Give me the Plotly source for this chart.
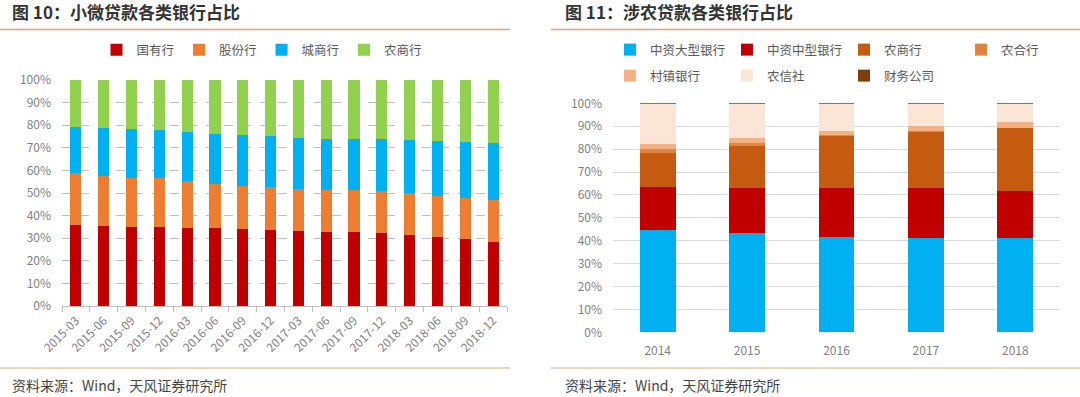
import plotly.graph_objects as go

W, H = 1080, 397
FONT = "Noto Sans CJK SC, Noto Sans, sans-serif"

# ---------------- Left chart data (图10) ----------------
quarters = ["2015-03", "2015-06", "2015-09", "2015-12", "2016-03", "2016-06", "2016-09", "2016-12",
            "2017-03", "2017-06", "2017-09", "2017-12", "2018-03", "2018-06", "2018-09", "2018-12"]
state_owned = [35.7, 35.3, 35.0, 34.8, 34.4, 34.4, 34.1, 33.5, 33.0, 32.6, 32.6, 32.3, 31.4, 30.5, 29.5, 28.5]
joint_stock = [23.0, 22.4, 21.8, 21.7, 20.8, 19.6, 19.1, 19.3, 18.6, 18.7, 18.7, 18.4, 18.6, 18.2, 18.3, 18.4]
city_comm = [20.7, 21.1, 21.7, 21.2, 21.8, 22.3, 22.6, 22.4, 22.9, 22.7, 22.7, 23.2, 23.5, 24.3, 24.8, 25.2]
rural_comm = [20.6, 21.2, 21.5, 22.3, 23.0, 23.7, 24.2, 24.8, 25.5, 26.0, 26.0, 26.1, 26.5, 27.0, 27.4, 27.9]

left_names = ["国有行", "股份行", "城商行", "农商行"]
left_colors = ["#C00000", "#ED7D31", "#00B0F0", "#92D050"]

# ---------------- Right chart data (图11) ----------------
years = ["2014", "2015", "2016", "2017", "2018"]
large_banks = [44.7, 43.2, 41.7, 41.3, 41.3]
medium_banks = [18.9, 20.0, 21.4, 21.6, 20.4]
rural_commercial = [14.6, 18.2, 22.6, 24.8, 27.6]
rural_coop = [2.0, 1.2, 0.4, 0.2, 0.1]
village_banks = [2.0, 2.1, 1.8, 2.2, 2.3]
rural_credit = [17.4, 14.9, 11.7, 9.5, 7.9]
finance_cos = [0.4, 0.4, 0.4, 0.4, 0.4]

right_names = ["中资大型银行", "中资中型银行", "农商行", "农合行", "村镇银行", "农信社", "财务公司"]
right_colors = ["#00B0F0", "#C00000", "#C55A11", "#E2843F", "#F4B183", "#FBE5D6", "#843C0C"]
right_legend = ["legend2", "legend2", "legend2", "legend2", "legend3", "legend3", "legend3"]

fig = go.Figure()

for name, vals, col in zip(left_names, [state_owned, joint_stock, city_comm, rural_comm], left_colors):
    fig.add_trace(go.Bar(x=quarters, y=vals, name=name, marker=dict(color=col, line=dict(width=0)),
                         xaxis="x", yaxis="y", legend="legend", width=0.4))

for name, vals, col, lg in zip(right_names,
                               [large_banks, medium_banks, rural_commercial, rural_coop,
                                village_banks, rural_credit, finance_cos],
                               right_colors, right_legend):
    fig.add_trace(go.Bar(x=years, y=vals, name=name, marker=dict(color=col, line=dict(width=0)),
                         xaxis="x2", yaxis="y2", legend=lg, width=0.4))


def px_x(p):
    return p / W


def px_y(p):
    return 1 - p / H


tick_font = dict(family=FONT, size=12, color="#7F7F7F")
legend_font = dict(family=FONT, size=12.5, color="#595959")

fig.update_layout(
    template="none",
    width=W, height=H,
    margin=dict(l=0, r=0, t=0, b=0, autoexpand=False),
    paper_bgcolor="white", plot_bgcolor="white",
    barmode="stack",
    font=dict(family=FONT, color="#595959"),
    xaxis=dict(domain=[px_x(62), px_x(507)], type="category", tickangle=-45, automargin=False,
               tickfont=tick_font, showgrid=False, showline=True, linecolor="#BFBFBF",
               ticks="outside", tickson="boundaries", ticklen=5, tickcolor="#BFBFBF",
               anchor="y", ticklabelstandoff=2, zeroline=False),
    yaxis=dict(domain=[px_y(306), px_y(80)], range=[0, 100], dtick=10, ticksuffix="%",
               automargin=False, ticks="",
               tickfont=tick_font, showgrid=True, gridcolor="#BFBFBF", griddash="dash",
               gridwidth=1, zeroline=False, showline=False, anchor="x", ticklabelstandoff=10),
    xaxis2=dict(domain=[px_x(613), px_x(1060)], type="category", tickfont=tick_font,
                automargin=False, zeroline=False,
                showgrid=False, showline=False, ticks="", anchor="y2", ticklabelstandoff=10),
    yaxis2=dict(domain=[px_y(332.3), px_y(103.3)], range=[0, 100], dtick=10, ticksuffix="%",
                automargin=False, ticks="",
                tickfont=tick_font, showgrid=True, gridcolor="#D9D9D9", gridwidth=1.2,
                zeroline=False, showline=False, anchor="x2", ticklabelstandoff=10),
    legend=dict(orientation="h", x=px_x(262), xanchor="center", y=px_y(50), yanchor="middle",
                font=legend_font, traceorder="normal", bgcolor="rgba(0,0,0,0)", borderwidth=0),
    legend2=dict(orientation="h", x=px_x(610), xanchor="left", y=px_y(50), yanchor="middle",
                 font=legend_font, traceorder="normal", bgcolor="rgba(0,0,0,0)", borderwidth=0,
                 entrywidth=72, entrywidthmode="pixels"),
    legend3=dict(orientation="h", x=px_x(610), xanchor="left", y=px_y(76), yanchor="middle",
                 font=legend_font, traceorder="normal", bgcolor="rgba(0,0,0,0)", borderwidth=0,
                 entrywidth=72, entrywidthmode="pixels"),
    bargap=0.6,
)

# Titles
title_font = dict(family=FONT, size=17, color="#333333")
fig.add_annotation(text="<b>图 10：小微贷款各类银行占比</b>", x=px_x(10), y=px_y(12), xref="paper",
                   yref="paper", xanchor="left", yanchor="middle", showarrow=False, font=title_font)
fig.add_annotation(text="<b>图 11：涉农贷款各类银行占比</b>", x=px_x(563), y=px_y(12), xref="paper",
                   yref="paper", xanchor="left", yanchor="middle", showarrow=False, font=title_font)

# Source notes
src_font = dict(family=FONT, size=14, color="#444444")
for xs in (10, 563):
    fig.add_annotation(text="资料来源：Wind，天风证券研究所", x=px_x(xs), y=px_y(385), xref="paper",
                       yref="paper", xanchor="left", yanchor="middle", showarrow=False, font=src_font)

# Separator lines
for (x0, x1) in ((0, 510), (551, 1080)):
    fig.add_shape(type="line", xref="paper", yref="paper", x0=px_x(x0), x1=px_x(x1),
                  y0=px_y(29.5), y1=px_y(29.5), line=dict(color="#E8A36A", width=1.5))
    fig.add_shape(type="line", xref="paper", yref="paper", x0=px_x(x0), x1=px_x(x1),
                  y0=px_y(368), y1=px_y(368), line=dict(color="#E6C7A2", width=1.5))

# Remove the browser's default page margin so the figure fills the window exactly.
fig.write_html("out.html", config={"displayModeBar": False},
               post_script="document.body.style.margin='0px';")
